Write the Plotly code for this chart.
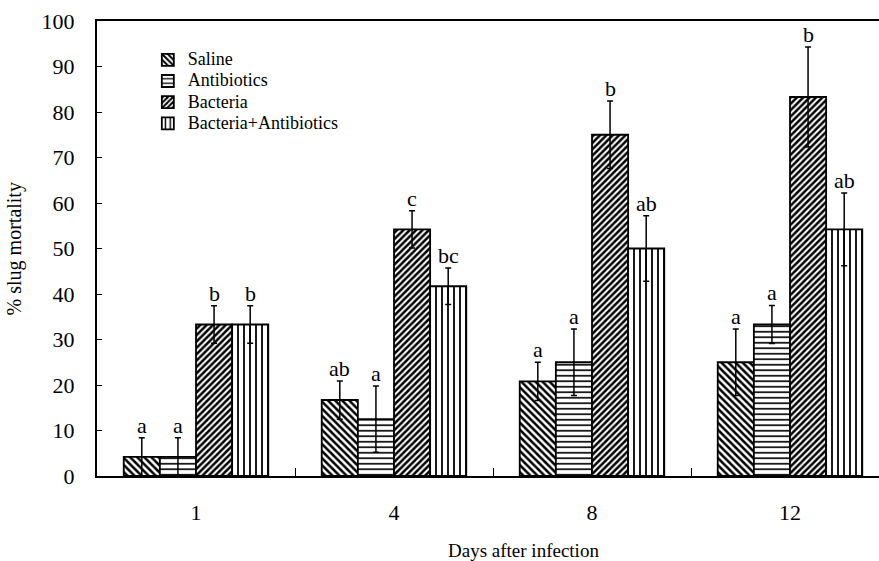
import plotly.graph_objects as go

days = ["1", "4", "8", "12"]
series_names = ["Saline", "Antibiotics", "Bacteria", "Bacteria+Antibiotics"]
saline = [4.2, 16.7, 20.8, 25.0]
antibiotics = [4.2, 12.5, 25.0, 33.3]
bacteria = [33.3, 54.2, 75.0, 83.3]
bact_antib = [33.3, 41.7, 50.0, 54.2]
saline_err = [4.2, 4.2, 4.2, 7.3]
antibiotics_err = [4.2, 7.3, 7.3, 4.2]
bacteria_err = [4.1, 4.1, 7.4, 11.0]
bact_antib_err = [4.1, 4.0, 7.2, 8.0]
saline_lab = ["a", "ab", "a", "a"]
antibiotics_lab = ["a", "a", "a", "a"]
bacteria_lab = ["b", "c", "b", "b"]
bact_antib_lab = ["b", "bc", "ab", "ab"]

values = [saline, antibiotics, bacteria, bact_antib]
errors = [saline_err, antibiotics_err, bacteria_err, bact_antib_err]
letters = [saline_lab, antibiotics_lab, bacteria_lab, bact_antib_lab]
patterns = [
    dict(shape="\\", size=5, solidity=0.5),
    dict(shape="-", size=5.5, solidity=0.3),
    dict(shape="/", size=4.5, solidity=0.55),
    dict(shape="|", size=6, solidity=0.3),
]

FONT = "Liberation Serif, Times New Roman, serif"
bargap = 0.27

fig = go.Figure()
for name, v, e, p in zip(series_names, values, errors, patterns):
    fig.add_trace(go.Bar(
        x=days, y=v,
        name='<span style="font-size:18px">' + name + '</span>',
        marker=dict(color="white", line=dict(color="black", width=1.8),
                    pattern=dict(fgcolor="black", bgcolor="white", fillmode="replace", **p)),
        error_y=dict(type="data", array=e, symmetric=True, color="black",
                     thickness=1.5, width=3),
    ))

n = len(series_names)
bw = (1 - bargap) / n
annotations = []
for si in range(n):
    off = -(1 - bargap) / 2 + bw * (si + 0.5)
    for ci in range(len(days)):
        annotations.append(dict(
            x=ci + off, y=values[si][ci] + errors[si][ci], xref="x", yref="y",
            text=letters[si][ci], showarrow=False, yanchor="bottom", yshift=-2,
            font=dict(family=FONT, size=22, color="black")))

annotations.append(dict(x=0.545, y=-0.163, xref="paper", yref="paper",
                        text="Days after infection", showarrow=False,
                        xanchor="center", yanchor="middle",
                        font=dict(family=FONT, size=19, color="black")))
annotations.append(dict(x=-0.105, y=0.5, xref="paper", yref="paper",
                        text="% slug mortality", showarrow=False, textangle=-90,
                        xanchor="center", yanchor="middle",
                        font=dict(family=FONT, size=20, color="black")))

fig.update_layout(
    width=879, height=561,
    margin=dict(l=97, r=0, t=21, b=85),
    paper_bgcolor="white", plot_bgcolor="white",
    barmode="group", bargap=bargap, bargroupgap=0,
    font=dict(family=FONT, color="black"),
    showlegend=True,
    legend=dict(x=0.065, y=0.949, xanchor="left", yanchor="top",
                bgcolor="rgba(0,0,0,0)", font=dict(family=FONT, size=14),
                tracegroupgap=0, itemwidth=30),
    annotations=annotations,
)
fig.update_xaxes(type="category", range=[-0.5, -0.5 + 782 / 198],
                 showline=True, linecolor="black", linewidth=2, mirror=True,
                 ticks="inside", tickson="boundaries", ticklen=8, tickwidth=1,
                 tickcolor="black", showgrid=False, zeroline=False,
                 tickfont=dict(family=FONT, size=22), ticklabelstandoff=16)
fig.update_yaxes(range=[0, 100], dtick=10, showline=True, linecolor="black",
                 linewidth=2, ticks="inside", ticklen=5, tickwidth=1,
                 tickcolor="black", showgrid=False, zeroline=False,
                 tickfont=dict(family=FONT, size=22), ticklabelstandoff=16)

fig.write_html("out.html")
